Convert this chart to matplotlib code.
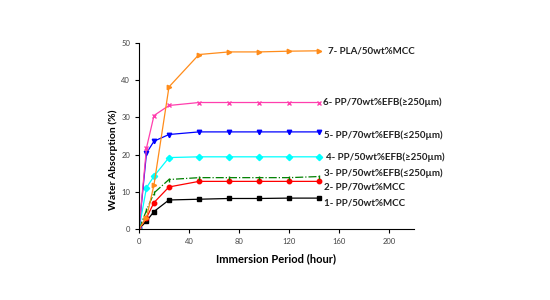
import matplotlib.pyplot as plt

plt.rcParams['font.family'] = ['Lato', 'DejaVu Sans']

# Immersion times (hour)
hours = [0, 6, 12, 24, 48, 72, 96, 120, 144]

# Water absorption (%) per composite
pp50_mcc = [0, 2.1, 4.7, 7.8, 8.0, 8.2, 8.2, 8.3, 8.3]
pp70_mcc = [0, 3.0, 7.1, 11.3, 12.8, 12.8, 12.8, 12.8, 12.8]
pp50_efb_small = [0, 5.0, 9.7, 13.3, 13.8, 13.8, 13.8, 13.8, 14.1]
pp50_efb_large = [0, 11.1, 14.2, 19.2, 19.4, 19.4, 19.4, 19.4, 19.4]
pp70_efb_small = [0, 20.4, 23.6, 25.4, 26.1, 26.1, 26.1, 26.1, 26.1]
pp70_efb_large = [0, 21.8, 30.5, 33.2, 34.0, 34.0, 34.0, 34.0, 34.0]
pla50_mcc = [0, 3.0, 11.9, 38.2, 46.9, 47.6, 47.6, 47.8, 47.9]

labels = [
    "1- PP/50wt%MCC",
    "2- PP/70wt%MCC",
    "3- PP/50wt%EFB(\u2264250\u00b5m)",
    "4- PP/50wt%EFB(\u2265250\u00b5m)",
    "5- PP/70wt%EFB(\u2264250\u00b5m)",
    "6- PP/70wt%EFB(\u2265250\u00b5m)",
    "7- PLA/50wt%MCC",
]
# label anchor (data units)
label_x = [148, 148, 148, 150, 148, 147, 151]
label_y = [7.0, 11.3, 15.0, 19.4, 25.3, 34.0, 47.9]

series = [pp50_mcc, pp70_mcc, pp50_efb_small, pp50_efb_large,
          pp70_efb_small, pp70_efb_large, pla50_mcc]
colors = ['black', 'red', 'green', 'cyan', 'blue', '#ff3fae', '#ff8c1a']
markers = ['s', 'o', '|', 'D', 'v', 'x', '>']
styles = ['-', '-', '-.', '-', '-', '-', '-']

fig = plt.figure(figsize=(5.5, 3), dpi=100)
ax = fig.add_axes([0.2527, 0.2367, 0.5, 0.62])

for s, c, m, ls in zip(series, colors, markers, styles):
    ax.plot(hours, s, color=c, marker=m, linestyle=ls, lw=0.9, ms=3.2,
            mew=1.0)

for txt, x, y in zip(labels, label_x, label_y):
    ax.text(x, y, txt, fontsize=7, fontweight='bold', color='#222222',
            va='center', ha='left')

ax.set_xlim(0, 220)
ax.set_ylim(0, 50)
ax.set_xticks([0, 40, 80, 120, 160, 200])
ax.set_yticks([0, 10, 20, 30, 40, 50])
ax.spines['top'].set_visible(False)
ax.spines['right'].set_visible(False)
ax.tick_params(labelsize=5.5, length=3, width=0.8, labelcolor='#444444')
ax.set_xlabel("Immersion Period (hour)", fontsize=8, fontweight='bold',
              labelpad=6)
ax.set_ylabel("Water Absorption (%)", fontsize=7.5, fontweight='bold',
              labelpad=2)
ax.yaxis.set_label_coords(-0.075, 0.37)

fig.savefig("out.png", dpi=100)
